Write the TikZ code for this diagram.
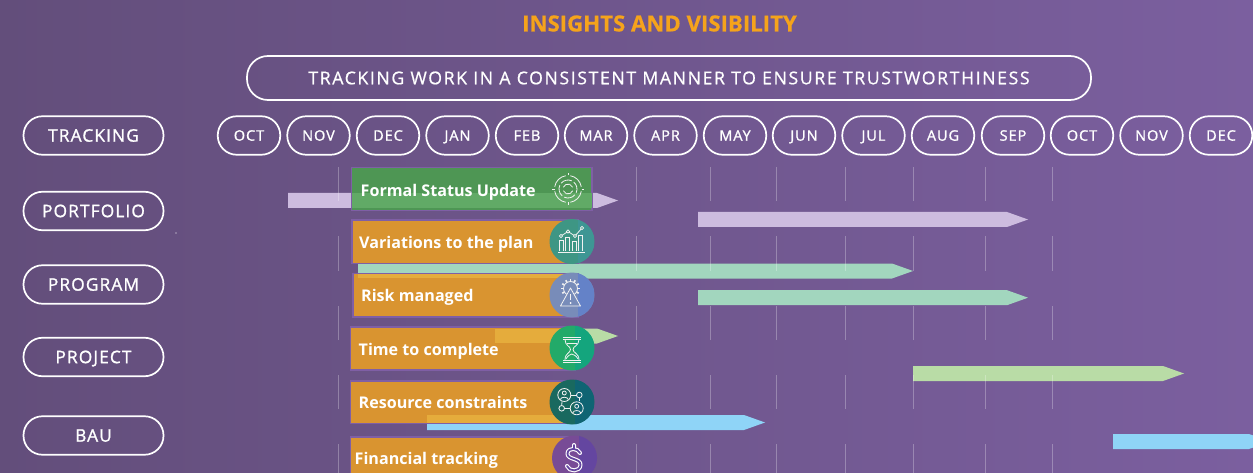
\documentclass[tikz,border=0pt]{standalone}
\usepackage{fontspec}
\setmainfont{Open Sans}
\newfontfamily\spacedfont[LetterSpace=6.5,FakeBold=1.2]{Open Sans}
\newfontfamily\subfont[LetterSpace=9,FakeBold=0.7]{Open Sans}
\newfontfamily\titlefont[FakeBold=0.5]{Open Sans Bold}
\definecolor{bgL}{HTML}{634E7B}
\definecolor{bgR}{HTML}{7B5F9F}
\definecolor{titleor}{HTML}{F5A31B}
\definecolor{barpurple}{HTML}{CDBCDF}
\definecolor{bargreen}{HTML}{A2D6BE}
\definecolor{barlime}{HTML}{B9DCA6}
\definecolor{barblue}{HTML}{8FD4F7}
\definecolor{cardor}{HTML}{D99430}
\definecolor{cardedge}{HTML}{7F5FA5}
\definecolor{cardgreenD}{HTML}{4E9654}
\definecolor{cardgreenL}{HTML}{61AA66}
\definecolor{overor}{HTML}{E5AC3C}
\definecolor{discA}{HTML}{3E9684}
\definecolor{discAr}{HTML}{3E9694}
\definecolor{discB}{HTML}{788CB9}
\definecolor{discBr}{HTML}{6482C8}
\definecolor{discC}{HTML}{23AA69}
\definecolor{discCr}{HTML}{14A57D}
\definecolor{discD}{HTML}{19695F}
\definecolor{discDr}{HTML}{0F6473}
\definecolor{discE}{HTML}{784B96}
\definecolor{discEr}{HTML}{6446A0}
\tikzset{x=1pt,y=-1pt,
  pill/.style={draw=white,line width=1.7pt,text=white,minimum height=38.5pt,inner sep=0pt},
  month/.style={pill,minimum width=62.5pt,rounded corners=19pt,text height=10.4pt,text depth=0pt,font=\fontsize{14.5}{16}\spacedfont},
  side/.style={pill,minimum width=140pt,rounded corners=19pt,text height=12.3pt,text depth=0pt,font=\fontsize{17.3}{19}\spacedfont},
  cardtext/.style={text=white,anchor=west,inner sep=0pt,text height=11.5pt,text depth=0pt,font=\fontsize{16.1}{18}\selectfont\bfseries},
  cardbox/.style={fill=cardor,draw=cardedge,line width=1.2pt},
  disc/.style={circle,minimum size=45pt,inner sep=0pt},
  gridline/.style={draw=white,draw opacity=.28,line width=.8pt},
  icon/.style={draw=white!90!gray,line width=.8pt},
}
\newcommand{\barrow}[4]{% x1,x2,yc,colour
  \fill[#4] (#1,#3-7.5) -- (#2-21,#3-7.5) -- (#2,#3) -- (#2-21,#3+7.5) -- (#1,#3+7.5) -- cycle;
}
\newcommand{\rightpart}[4]{% disc x,y, edge, colour
  \begin{scope}\clip (#1,#2) circle (22.5);\fill[#4] (#3,#2-23) rectangle (#1+23,#2+23);\end{scope}
}
\begin{document}
\begin{tikzpicture}
\useasboundingbox (0,0) rectangle (1253,473);
\shade[left color=bgL,right color=bgR] (0,0) rectangle (1253,473);
\node[text=titleor,font=\fontsize{22.2}{24}\titlefont,text height=15.9pt,text depth=0pt,inner sep=0pt] (title) at (659.5,23.5) {INSIGHTS AND VISIBILITY};
\node[pill,minimum width=844pt,minimum height=44pt,rounded corners=21pt,text height=12.6pt,text depth=0pt,font=\fontsize{17.7}{20}\subfont] (sub) at (669,78) {TRACKING WORK IN A CONSISTENT MANNER TO ENSURE TRUSTWORTHINESS};
\node[side] (track) at (93.5,135.5) {TRACKING};
\node[side] (port) at (93.5,211) {PORTFOLIO};
\node[side] (prog) at (93.5,284.5) {PROGRAM};
\node[side] (proj) at (93.5,357) {PROJECT};
\node[side] (bau) at (93.5,435.5) {BAU};
\foreach \m/\cx [count=\i] in {OCT/249,NOV/318.5,DEC/388,JAN/457.5,FEB/527,MAR/596,APR/665.5,MAY/735,JUN/804,JUL/873.5,AUG/943,SEP/1013,OCT/1082,NOV/1151.5,DEC/1221}{
  \node[month] (m\i) at (\cx,135.5) {\m};
}
% bars
\barrow{288}{618}{200.5}{barpurple}
\barrow{698}{1028}{219.5}{barpurple}
\barrow{358}{913}{271}{bargreen}
\barrow{698}{1028}{297.7}{bargreen}
\barrow{495}{618}{336}{barlime}
\barrow{913}{1184}{373.5}{barlime}
\barrow{427}{765}{422.5}{barblue}
\barrow{1113}{1270}{441.5}{barblue}
% grid
\foreach \gx in {338,636,710,776,845,913,985,1052}{
  \foreach \ya/\yb in {167/201,236/271,306/340,375/409,444/473}{\draw[gridline] (\gx,\ya) -- (\gx,\yb);}
}
% cards
\draw[cardbox,fill=cardgreenD] (351.5,167.5) rectangle (592,210.5);
\fill[cardgreenL] (352,193) rectangle (591.5,208);
\draw[cardbox] (352,220) rectangle (578,263.5);
\draw[cardbox] (353,273.5) rectangle (578,317);
\draw[cardbox] (350.5,327) rectangle (575,370);
\draw[cardbox] (350.5,381) rectangle (575,423.5);
\draw[cardbox] (350.5,437) rectangle (579,480);
% bar overlays seen through cards
\fill[overor] (358,274) rectangle (577.5,278.3);
\fill[overor] (495,329) rectangle (574.5,343);
\fill[overor] (427,415) rectangle (574.5,423);
% discs
\node[disc,fill=discA] (d2) at (572,241.5) {};
\rightpart{572}{241.5}{578}{discAr}
\node[disc,fill=discB] (d3) at (572,295) {};
\rightpart{572}{295}{578}{discBr}
\node[disc,fill=discC] (d4) at (572,348) {};
\rightpart{572}{348}{575}{discCr}
\node[disc,fill=discD] (d5) at (572,402) {};
\rightpart{572}{402}{575}{discDr}
\node[disc,fill=discE] (d6) at (574.5,458) {};
\rightpart{574.5}{458}{579}{discEr}
% texts
\node[cardtext] (t1) at (360.5,190.7) {Formal Status Update};
\node[cardtext] (t2) at (359,242.7) {Variations to the plan};
\node[cardtext] (t3) at (361,295.7) {Risk managed};
\node[cardtext] (t4) at (358.5,349.7) {Time to complete};
\node[cardtext] (t5) at (358.5,402.7) {Resource constraints};
\node[cardtext] (t6) at (354.5,458.7) {Financial tracking};
% icon: target
\begin{scope}[icon,shift={(568,189)}]
  \foreach \a in {10,100,190,280}{\draw (\a:13.5) arc[start angle=\a,delta angle=70,radius=13.5];}
  \foreach \a in {40,130,220,310}{\draw (\a:9) arc[start angle=\a,delta angle=75,radius=9];}
  \draw (20:5) arc[start angle=20,delta angle=140,radius=5];
  \draw (200:5) arc[start angle=200,delta angle=140,radius=5];
  \draw (0,-13.5) -- (0,-16) (0,13.5) -- (0,16) (-13.5,0) -- (-16,0) (13.5,0) -- (16,0);
\end{scope}
% icon: chart
\begin{scope}[icon]
  \draw (558,252) -- (585,252);
  \draw (559,251) |- (563,240) -- (563,251);
  \draw (565.5,251) |- (569.5,237) -- (569.5,251);
  \draw (572,251) |- (576,241) -- (576,251);
  \draw (578.5,251) |- (582.5,235) -- (582.5,251);
  \draw (561,236) -- (568,231.5) -- (575,236) -- (582,228);
  \foreach \px/\py in {561/236,568/231.5,575/236,582/228}{\draw[fill=discA] (\px,\py) circle (1.6);}
\end{scope}
% icon: gear + warning
\begin{scope}[icon]
  \draw (570.5,288.5) circle (7);
  \foreach \a in {-210,-180,-150,-120,-90,-60,-30,0,30}{
    \draw[line width=1.6pt] ([shift={(\a:7)}]570.5,288.5) -- ([shift={(\a:9.5)}]570.5,288.5);
  }
  \draw[fill=discB,line join=round] (570.5,288) -- (560.5,306) -- (580.5,306) -- cycle;
  \draw[line width=1.4pt] (570.5,294) -- (570.5,300);
  \fill[white] (570.5,303) circle (1);
\end{scope}
% icon: hourglass
\begin{scope}[icon]
  \draw (563,337) -- (581,337) (563,339.5) -- (581,339.5) (563,360) -- (581,360) (563,362) -- (581,362);
  \draw (565,339.5) .. controls (565,346) and (570.5,346) .. (570.5,349.5) .. controls (570.5,353) and (565,353) .. (565,360);
  \draw (579,339.5) .. controls (579,346) and (573,346) .. (573,349.5) .. controls (573,353) and (579,353) .. (579,360);
  \draw (567,343.5) -- (577,343.5);
  \draw (566,359) .. controls (568,355) and (570,355) .. (571.7,354) .. controls (573.5,355) and (576,355) .. (578,359);
\end{scope}
% icon: people network
\begin{scope}[icon]
  \draw (564.3,395) circle (6.5) (576.7,408.3) circle (6.5);
  \draw (564.3,393) circle (2) (576.7,406.3) circle (2);
  \draw (560.3,399.5) .. controls (561,396.5) and (567.5,396.5) .. (568.3,399.5);
  \draw (572.7,412.8) .. controls (573.5,409.8) and (580,409.8) .. (580.7,412.8);
  \draw (579.3,395) circle (2.8) (561.7,408.3) circle (2.8);
  \draw (570.8,395) -- (576.5,395) (564.5,408.3) -- (570.2,408.3) (579.3,397.8) -- (579.3,401);
  \draw (562,401.5) -- (561.7,405.5);
\end{scope}
% icon: dollar (outlined)
\begin{scope}
  \foreach \lw/\col in {4/white,1.8/discEr}{
    \draw[line width=\lw pt,draw=\col,line cap=round,line join=round] (574,445) -- (574,449)
      (580,453) .. controls (578,448) and (568,447) .. (567.5,453.5) .. controls (567,460) and (581,458) .. (580.5,465) .. controls (580,472) and (569,472) .. (567,466);
  }
\end{scope}
\fill[white] (176,233) circle (.7);
\end{tikzpicture}
\end{document}
